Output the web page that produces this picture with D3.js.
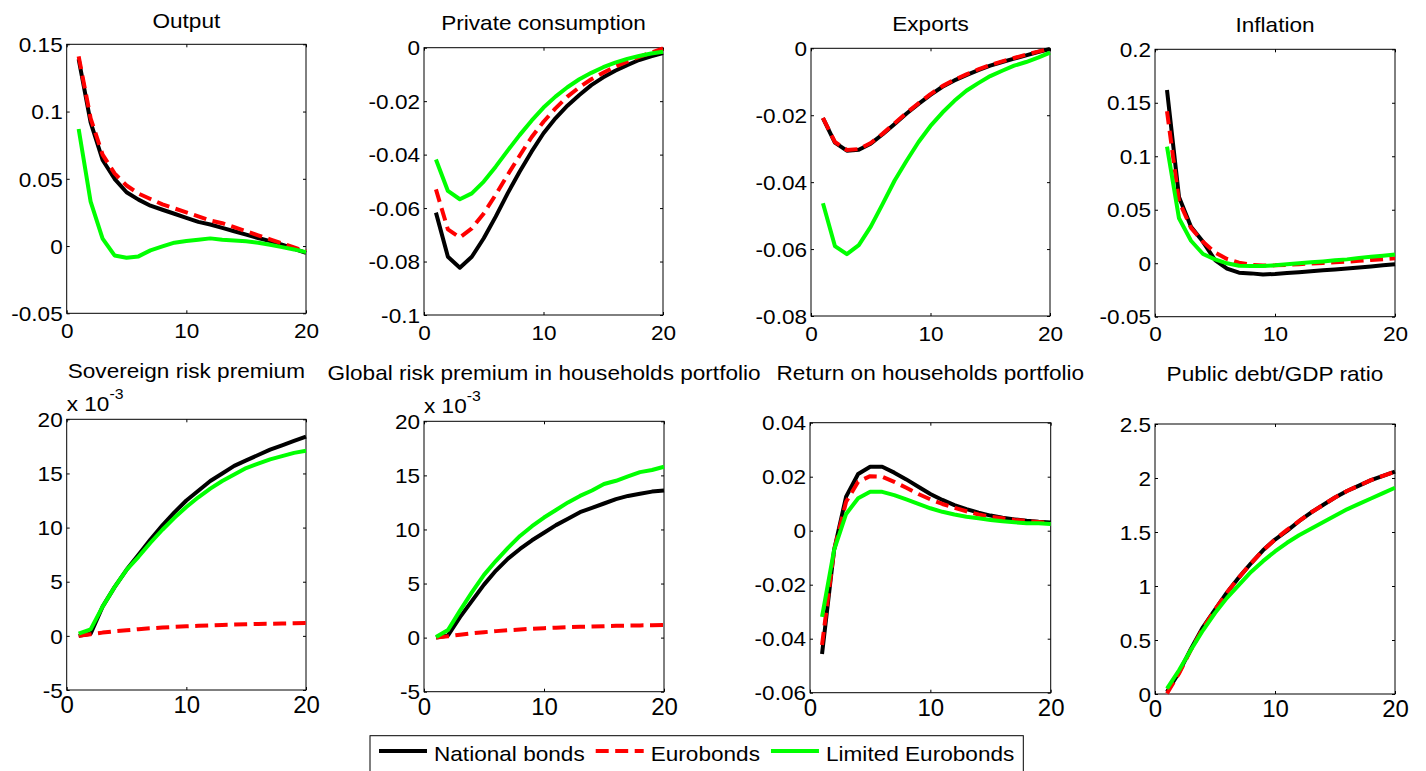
<!DOCTYPE html>
<html>
<head>
<meta charset="utf-8">
<script src="https://cdn.jsdelivr.net/npm/d3@7"></script>
<style>
  html, body { margin: 0; padding: 0; background: #fff; }
  svg { display: block; }
  text { font-family: "Liberation Sans", Arial, Helvetica, sans-serif; font-size: 20px; fill: #000; }
  .xlab-big text { font-size: 24px; }
</style>
</head>
<body>
<svg id="chart" width="1426" height="771"></svg>
<script>
// ---- data -------------------------------------------------------------
const periods = d3.range(1, 21);           // quarters 1..20
const xTicks = [0, 10, 20];

const seriesNames  = ["National bonds", "Eurobonds", "Limited Eurobonds"];
const seriesColors = ["#000000", "#ff0000", "#00ff00"];

const panelTitles = [
  "Output", "Private consumption", "Exports", "Inflation",
  "Sovereign risk premium", "Global risk premium in households portfolio",
  "Return on households portfolio", "Public debt/GDP ratio"
];

const outputTicks      = [-0.05, 0, 0.05, 0.1, 0.15];
const consumptionTicks = [-0.1, -0.08, -0.06, -0.04, -0.02, 0];
const exportsTicks     = [-0.08, -0.06, -0.04, -0.02, 0];
const inflationTicks   = [-0.05, 0, 0.05, 0.1, 0.15, 0.2];
const sovereignTicks   = [-0.005, 0, 0.005, 0.01, 0.015, 0.02];
const globalTicks      = [-0.005, 0, 0.005, 0.01, 0.015, 0.02];
const returnTicks      = [-0.06, -0.04, -0.02, 0, 0.02, 0.04];
const debtTicks        = [0, 0.5, 1, 1.5, 2, 2.5];

const outputNational = [0.139, 0.092, 0.064, 0.050, 0.040, 0.0345, 0.030, 0.027, 0.024, 0.021, 0.018, 0.016, 0.0135, 0.011, 0.0085, 0.006, 0.0037, 0.001, -0.002, -0.005];
const outputEuro     = [0.141, 0.095, 0.068, 0.054, 0.045, 0.039, 0.035, 0.031, 0.028, 0.025, 0.022, 0.019, 0.017, 0.014, 0.011, 0.008, 0.005, 0.002, -0.001, -0.004];
const outputLimited  = [0.087, 0.033, 0.0055, -0.007, -0.0087, -0.0077, -0.0032, -0.0003, 0.0025, 0.0037, 0.0047, 0.0057, 0.0047, 0.0042, 0.0035, 0.0025, 0.001, -0.0008, -0.0025, -0.0045];

const consumptionNational = [-0.0617, -0.0782, -0.0823, -0.0782, -0.0713, -0.0632, -0.0545, -0.0464, -0.0389, -0.0320, -0.0264, -0.0217, -0.0177, -0.0140, -0.0111, -0.0086, -0.0065, -0.0046, -0.0032, -0.0020];
const consumptionEuro     = [-0.053, -0.068, -0.071, -0.0676, -0.062, -0.055, -0.0476, -0.0404, -0.0335, -0.0277, -0.0227, -0.0183, -0.0148, -0.0118, -0.0094, -0.0071, -0.0052, -0.0034, -0.0019, -0.0003];
const consumptionLimited  = [-0.0418, -0.0536, -0.0567, -0.0545, -0.0501, -0.0445, -0.0385, -0.0327, -0.0273, -0.0224, -0.0183, -0.0148, -0.0118, -0.0094, -0.0073, -0.0056, -0.0042, -0.0031, -0.0022, -0.0015];

const exportsNational = [-0.0209, -0.0282, -0.0306, -0.0303, -0.0285, -0.0257, -0.0226, -0.0195, -0.0166, -0.0139, -0.0115, -0.0096, -0.0080, -0.0065, -0.0052, -0.0041, -0.0031, -0.0021, -0.0011, -0.0002];
const exportsEuro     = [-0.0208, -0.0280, -0.0304, -0.0301, -0.0283, -0.0255, -0.0224, -0.0193, -0.0164, -0.0137, -0.0113, -0.0094, -0.0078, -0.0063, -0.0050, -0.0039, -0.0029, -0.0019, -0.0010, -0.0001];
const exportsLimited  = [-0.0463, -0.0591, -0.0615, -0.0588, -0.0533, -0.0465, -0.0395, -0.0336, -0.0280, -0.0232, -0.0192, -0.0157, -0.0127, -0.0104, -0.0083, -0.0067, -0.0052, -0.0041, -0.0028, -0.0013];

const inflationNational = [0.162, 0.062, 0.034, 0.020, 0.003, -0.005, -0.0088, -0.0095, -0.0105, -0.0100, -0.0092, -0.0084, -0.0075, -0.0066, -0.0058, -0.0050, -0.0040, -0.0030, -0.0020, -0.0010];
const inflationEuro     = [0.142, 0.058, 0.033, 0.020, 0.010, 0.004, 0.0005, -0.0015, -0.0022, -0.0020, -0.0015, -0.0009, -0.0003, 0.0003, 0.0009, 0.0015, 0.0022, 0.0030, 0.0038, 0.0046];
const inflationLimited  = [0.109, 0.042, 0.021, 0.0086, 0.0036, -0.0001, -0.0023, -0.0026, -0.0026, -0.0020, -0.0010, 0.0000, 0.0008, 0.0017, 0.0027, 0.0036, 0.0050, 0.0060, 0.0070, 0.0082];

const sovereignNational = [0, 0.0002, 0.0027, 0.0045, 0.0061, 0.0075, 0.0089, 0.0102, 0.0114, 0.0125, 0.0134, 0.0143, 0.0150, 0.0157, 0.0162, 0.0167, 0.0172, 0.0176, 0.0180, 0.0184];
const sovereignEuro     = [0, 0.00015, 0.0003, 0.00042, 0.00052, 0.00062, 0.0007, 0.00077, 0.00083, 0.00088, 0.00093, 0.00097, 0.00101, 0.00104, 0.00107, 0.0011, 0.00112, 0.00114, 0.00116, 0.00118];
const sovereignLimited  = [0.0002, 0.0006, 0.0027, 0.0045, 0.0061, 0.0073, 0.0086, 0.0098, 0.0109, 0.0119, 0.0128, 0.0136, 0.0143, 0.0149, 0.0155, 0.0159, 0.0163, 0.0166, 0.0169, 0.0171];

const globalNational = [0, 0.0002, 0.0019, 0.0034, 0.0049, 0.0062, 0.0073, 0.0082, 0.0090, 0.0097, 0.0104, 0.0110, 0.0116, 0.0120, 0.0124, 0.0128, 0.0131, 0.0133, 0.0135, 0.0136];
const globalEuro     = [0, 0.00012, 0.00027, 0.0004, 0.0005, 0.0006, 0.00068, 0.00075, 0.00082, 0.00087, 0.00092, 0.00096, 0.001, 0.00103, 0.00106, 0.00109, 0.00111, 0.00113, 0.00115, 0.00117];
const globalLimited  = [0.00005, 0.0007, 0.0025, 0.0042, 0.0058, 0.0071, 0.0083, 0.0094, 0.0103, 0.0111, 0.0118, 0.0125, 0.0131, 0.0136, 0.0142, 0.0145, 0.0149, 0.0153, 0.0155, 0.0158];

const returnNational = [-0.0457, -0.0072, 0.0126, 0.0210, 0.0237, 0.0237, 0.0215, 0.0190, 0.0163, 0.0136, 0.0114, 0.0095, 0.0080, 0.0067, 0.0056, 0.0048, 0.0042, 0.0037, 0.0033, 0.0030];
const returnEuro     = [-0.0423, -0.0072, 0.0107, 0.0181, 0.0202, 0.0200, 0.0181, 0.0159, 0.0136, 0.0116, 0.0099, 0.0085, 0.0072, 0.0060, 0.0052, 0.0046, 0.0040, 0.0036, 0.0032, 0.0028];
const returnLimited  = [-0.0319, -0.0072, 0.0062, 0.0120, 0.0144, 0.0144, 0.0132, 0.0116, 0.0099, 0.0083, 0.0070, 0.0060, 0.0052, 0.0046, 0.0040, 0.0035, 0.0031, 0.0028, 0.0028, 0.0025];

const debtNational = [0.02, 0.20, 0.42, 0.62, 0.78, 0.94, 1.08, 1.21, 1.33, 1.43, 1.51, 1.60, 1.68, 1.75, 1.82, 1.88, 1.93, 1.98, 2.02, 2.06];
const debtEuro     = [0.005, 0.19, 0.41, 0.61, 0.78, 0.94, 1.08, 1.21, 1.33, 1.43, 1.52, 1.60, 1.68, 1.75, 1.82, 1.88, 1.93, 1.98, 2.02, 2.06];
const debtLimited  = [0.05, 0.22, 0.41, 0.59, 0.75, 0.89, 1.01, 1.13, 1.23, 1.32, 1.40, 1.47, 1.53, 1.59, 1.65, 1.71, 1.76, 1.81, 1.86, 1.91];

// ---- layout -----------------------------------------------------------
// box = [left, top, right, bottom] of each axes frame, titleY = title baseline
const plainFmt = v => String(Math.round(v * 1e4) / 1e4);
const milliFmt = v => String(Math.round(v * 1e3));

const panels = [
  { series: [outputNational, outputEuro, outputLimited], ticks: outputTicks, fmt: plainFmt,
    box: [66.7, 44.3, 306, 313.3], titleY: 27.5, row: 0 },
  { series: [consumptionNational, consumptionEuro, consumptionLimited], ticks: consumptionTicks, fmt: plainFmt,
    box: [424, 47.7, 663, 315], titleY: 30, row: 0 },
  { series: [exportsNational, exportsEuro, exportsLimited], ticks: exportsTicks, fmt: plainFmt,
    box: [811, 48.3, 1050, 316], titleY: 30.7, row: 0 },
  { series: [inflationNational, inflationEuro, inflationLimited], ticks: inflationTicks, fmt: plainFmt,
    box: [1155, 49.3, 1395, 316.7], titleY: 32, row: 0 },
  { series: [sovereignNational, sovereignEuro, sovereignLimited], ticks: sovereignTicks, fmt: milliFmt, exponent: "-3",
    box: [66.7, 419.3, 306, 690], titleY: 377.5, row: 1 },
  { series: [globalNational, globalEuro, globalLimited], ticks: globalTicks, fmt: milliFmt, exponent: "-3",
    box: [424, 421.3, 664, 691.7], titleY: 380, row: 1 },
  { series: [returnNational, returnEuro, returnLimited], ticks: returnTicks, fmt: plainFmt,
    box: [810, 422.7, 1050.7, 692.7], titleY: 379.5, row: 1 },
  { series: [debtNational, debtEuro, debtLimited], ticks: debtTicks, fmt: plainFmt,
    box: [1155, 424, 1395, 694], titleY: 381, row: 1 }
];

const SX = 1.13;          // horizontal stretch of the lettering
const TICK = 3;           // inward tick length
const LINE_W = 4;
const DASH = "13,6.5";

const svg = d3.select("#chart");

panels.forEach((p, i) => {
  const [x0, y0, x1, y1] = p.box;
  const w = x1 - x0, h = y1 - y0;
  const g = svg.append("g").attr("transform", `translate(${x0},${y0})`);

  const x = d3.scaleLinear().domain([0, 20]).range([0, w]);
  const y = d3.scaleLinear().domain([p.ticks[0], p.ticks[p.ticks.length - 1]]).range([h, 0]);

  // frame
  g.append("rect").attr("width", w).attr("height", h)
    .attr("fill", "none").attr("stroke", "#000").attr("stroke-width", 1);

  // ticks on all four sides, pointing inward
  const left = g.append("g")
    .call(d3.axisLeft(y).tickValues(p.ticks).tickSize(-TICK).tickPadding(3.5).tickFormat(p.fmt));
  g.append("g").attr("transform", `translate(${w},0)`)
    .call(d3.axisRight(y).tickValues(p.ticks).tickSize(-TICK).tickFormat(""));
  const bottom = g.append("g").attr("transform", `translate(0,${h})`)
    .attr("class", p.row === 1 ? "xlab-big" : null)
    .call(d3.axisBottom(x).tickValues(xTicks).tickSize(-TICK)
      .tickPadding(p.row === 1 ? 6 : 10.5).tickFormat(d3.format("d")));
  g.append("g")
    .call(d3.axisTop(x).tickValues(xTicks).tickSize(-TICK).tickFormat(""));

  g.selectAll(".domain").remove();
  g.selectAll("g").attr("font-size", null).attr("font-family", null);
  left.selectAll(".tick text").attr("dy", "0.36em").attr("transform", `scale(${SX},1)`);
  if (p.row === 0) bottom.selectAll(".tick text").attr("transform", `scale(${SX},1)`);

  // response paths
  const line = d3.line().x((d, k) => x(periods[k])).y(d => y(d));
  p.series.forEach((vals, s) => {
    g.append("path")
      .datum(vals)
      .attr("d", line)
      .attr("fill", "none")
      .attr("stroke", seriesColors[s])
      .attr("stroke-width", LINE_W)
      .attr("stroke-linejoin", "round")
      .attr("stroke-dasharray", s === 1 ? DASH : null);
  });

  // title
  svg.append("text")
    .attr("transform", `translate(${(x0 + x1) / 2},${p.titleY}) scale(${SX},1)`)
    .attr("text-anchor", "middle")
    .text(panelTitles[i]);

  // common exponent label
  if (p.exponent) {
    const t = svg.append("text")
      .attr("transform", `translate(${x0},${y0 - 8}) scale(${SX},1)`);
    t.append("tspan").text("x 10");
    t.append("tspan").attr("dy", -12).style("font-size", "14px").text(p.exponent);
  }
});

// ---- legend -----------------------------------------------------------
const legend = svg.append("g").attr("transform", "translate(370,735.7)");
legend.append("rect").attr("width", 653.3).attr("height", 37)
  .attr("fill", "#fff").attr("stroke", "#000").attr("stroke-width", 1);

let cursor = 9;
seriesNames.forEach((name, s) => {
  legend.append("line")
    .attr("x1", cursor).attr("x2", cursor + 48)
    .attr("y1", 15.3).attr("y2", 15.3)
    .attr("stroke", seriesColors[s]).attr("stroke-width", LINE_W)
    .attr("stroke-dasharray", s === 1 ? DASH : null);
  cursor += 48 + 7;
  const t = legend.append("text")
    .attr("transform", `translate(${cursor},25.3) scale(${SX},1)`)
    .text(name);
  cursor += t.node().getComputedTextLength() * SX + 11;
});
</script>
</body>
</html>
